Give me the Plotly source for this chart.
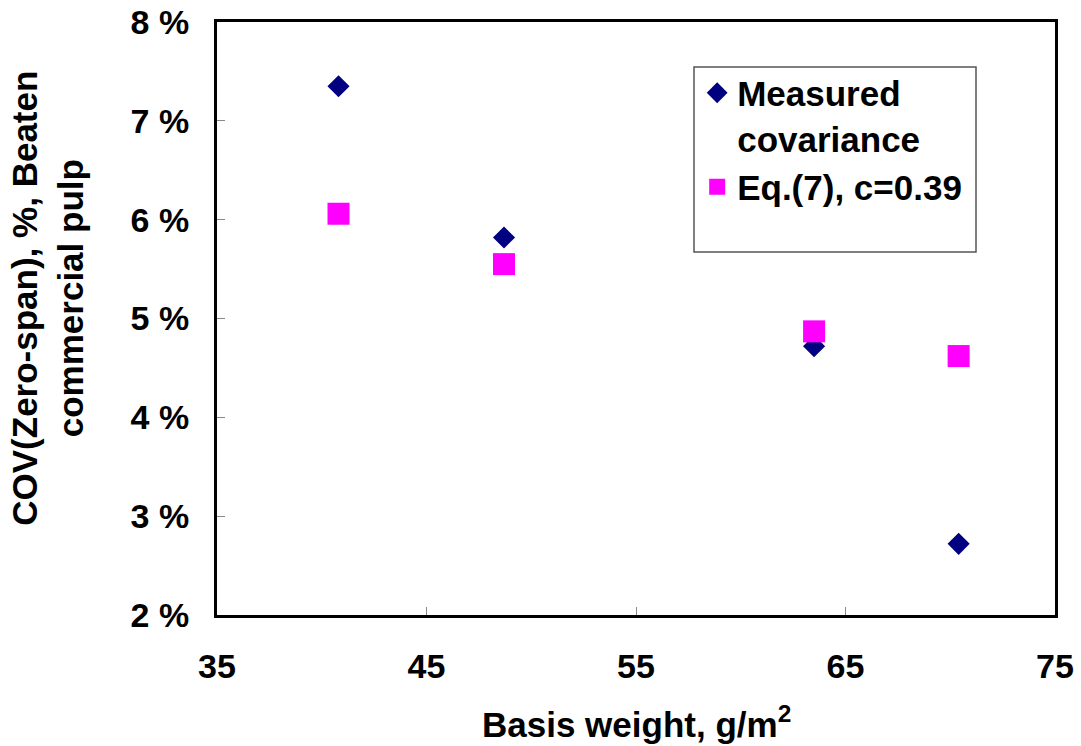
import plotly.graph_objects as go

# basis weight (g/m2) and COV values (%)
basis_weight = [40.8, 48.7, 63.5, 70.4]
measured_cov = [7.35, 5.82, 4.72, 2.72]
eq7_cov = [6.06, 5.55, 4.87, 4.62]

x_ticks = [35, 45, 55, 65, 75]
y_ticks = [2, 3, 4, 5, 6, 7, 8]

font_family = "Liberation Sans, Arial, sans-serif"

fig = go.Figure()

fig.add_trace(go.Scatter(
    x=basis_weight, y=measured_cov, mode="markers",
    name="Measured<br>covariance",
    marker=dict(symbol="diamond", size=17, color="#000080",
                line=dict(width=0))))

fig.add_trace(go.Scatter(
    x=basis_weight, y=eq7_cov, mode="markers",
    name="Eq.(7), c=0.39",
    marker=dict(symbol="square", size=22, color="#FF00FF",
                line=dict(width=0))))

fig.update_layout(
    width=1081, height=746,
    margin=dict(l=217, r=26, t=22, b=131),
    plot_bgcolor="white", paper_bgcolor="white",
    font=dict(family=font_family, size=34, color="black", weight="bold"),
    showlegend=True,
    legend=dict(x=0.573, y=0.93, xanchor="left", yanchor="top",
                bgcolor="rgba(0,0,0,0)", borderwidth=0, valign="top",
                font=dict(size=35, family=font_family, color="black",
                          weight="bold"),
                tracegroupgap=2, itemsizing="trace"),
)

# legend box
fig.add_shape(type="rect", xref="paper", yref="paper",
              x0=(694 - 217) / 838, x1=(976 - 217) / 838,
              y0=(615 - 252) / 593, y1=(615 - 67) / 593,
              line=dict(color="#555555", width=1.5), fillcolor="white",
              layer="below")

fig.update_xaxes(
    range=[35, 75], tickvals=x_ticks, ticktext=[str(v) for v in x_ticks],
    showline=True, linewidth=3, linecolor="black", mirror=True,
    ticks="inside", ticklen=8, tickwidth=1, tickcolor="#888888",
    showgrid=False, zeroline=False, ticklabelstandoff=19, automargin=False,
    ticklabeloverflow="allow",
    tickfont=dict(size=34, family=font_family, color="black", weight="bold"),
)
fig.update_yaxes(
    range=[2, 8], tickvals=y_ticks, ticktext=["%d %%" % v for v in y_ticks],
    showline=True, linewidth=3, linecolor="black", mirror=True,
    ticks="inside", ticklen=8, tickwidth=1, tickcolor="#888888",
    showgrid=False, zeroline=False, ticklabelstandoff=18, automargin=False,
    ticklabeloverflow="allow",
    tickfont=dict(size=34, family=font_family, color="black", weight="bold"),
)

fig.add_annotation(
    text="Basis weight, g/m<sup>2</sup>", xref="paper", yref="paper",
    x=0.5, y=-0.18, xanchor="center", yanchor="middle", showarrow=False,
    font=dict(size=35, family=font_family, color="black", weight="bold"))

fig.add_annotation(
    text="COV(Zero-span), %, Beaten<br>commercial pulp",
    xref="paper", yref="paper", x=-0.2017, y=0.535,
    xanchor="center", yanchor="middle", textangle=-90, showarrow=False,
    font=dict(size=35, family=font_family, color="black", weight="bold"))

# drop the default body margin so the figure sits at the page corner
fig.write_html("out.html", config={"displayModeBar": False},
               post_script="document.body.style.margin='0';")
